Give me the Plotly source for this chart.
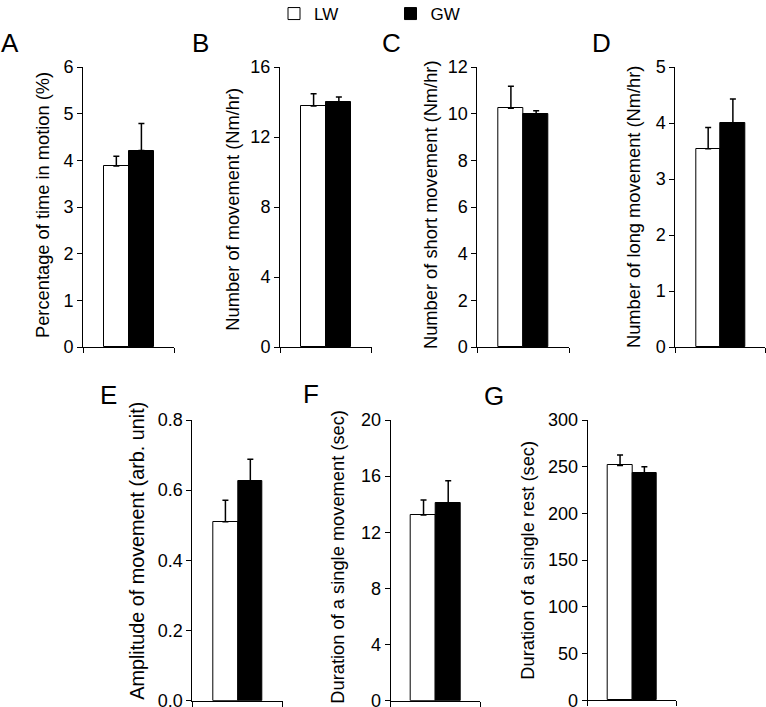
import plotly.graph_objects as go

W, H = 766, 707
FONT = "Liberation Sans, Arial, sans-serif"

groups = ["LW", "GW"]
panel_letters = ["A", "B", "C", "D", "E", "F", "G"]
y_titles = [
    "Percentage of time in motion (%)",
    "Number of movement (Nm/hr)",
    "Number of short movement (Nm/hr)",
    "Number of long movement (Nm/hr)",
    "Amplitude of movement (arb. unit)",
    "Duration of a single movement (sec)",
    "Duration of a single rest (sec)",
]
lw_means = [3.88, 13.77, 10.23, 3.54, 0.510, 13.24, 251.4]
lw_errs = [0.21, 0.70, 0.94, 0.38, 0.061, 1.06, 11.1]
gw_means = [4.21, 13.98, 9.99, 4.00, 0.625, 14.07, 242.9]
gw_errs = [0.58, 0.31, 0.14, 0.43, 0.063, 1.61, 7.1]
y_max = [6, 16, 12, 5, 0.8, 20, 300]
y_dtick = [1, 4, 2, 1, 0.2, 4, 50]
y_fmt = ["", "", "", "", ".1f", "", ""]

# layout in pixels (left, right, top, bottom) of each plot area
boxes = [
    (83, 174, 67, 347),
    (280, 371.7, 67, 347),
    (477.3, 569, 67, 347),
    (675.3, 765, 67, 347),
    (192.3, 282.7, 420, 700.7),
    (390.7, 480.3, 420, 700.7),
    (587.7, 676, 420, 700.3),
]
title_pos = [(42, 205), (231.7, 209), (430, 205), (633, 207),
             (136.7, 551), (336.7, 557), (526.7, 560)]
title_size = [18.3, 18.3, 18.3, 18.3, 19.8, 18.3, 18.3]
letter_pos = [(-1, 43), (190, 43), (380, 43), (590, 43),
              (98, 395), (301, 394), (482, 396)]

X_LO, X_HI = -1.33, 2.3

fig = go.Figure()
annotations = []
for i in range(7):
    xa = "x" if i == 0 else f"x{i+1}"
    ya = "y" if i == 0 else f"y{i+1}"
    fig.add_trace(go.Bar(
        x=[0], y=[lw_means[i]], width=1, name=groups[0], legendgroup=groups[0],
        showlegend=(i == 0), xaxis=xa, yaxis=ya,
        marker=dict(color="white", line=dict(color="black", width=1)),
        error_y=dict(type="data", array=[lw_errs[i]], arrayminus=[0], symmetric=False,
                     color="black", thickness=1.5, width=3),
    ))
    fig.add_trace(go.Bar(
        x=[1], y=[gw_means[i]], width=1, name=groups[1], legendgroup=groups[1],
        showlegend=(i == 0), xaxis=xa, yaxis=ya,
        marker=dict(color="black", line=dict(color="black", width=1)),
        error_y=dict(type="data", array=[gw_errs[i]], arrayminus=[0], symmetric=False,
                     color="black", thickness=1.5, width=3),
    ))
    l, r, t, b = boxes[i]
    xkey = "xaxis" if i == 0 else f"xaxis{i+1}"
    ykey = "yaxis" if i == 0 else f"yaxis{i+1}"
    fig.layout[xkey] = dict(
        domain=[l / W, r / W], anchor=ya, range=[X_LO, X_HI], automargin=False,
        showgrid=False, zeroline=False, showline=True, linecolor="black", linewidth=1,
        ticks="outside", tickvals=[X_LO, X_HI], ticklen=5, tickcolor="black",
        showticklabels=False, fixedrange=True,
    )
    fig.layout[ykey] = dict(
        domain=[(H - b) / H, (H - t) / H], anchor=xa, range=[0, y_max[i]],
        automargin=False, ticklabeloverflow="allow",
        dtick=y_dtick[i], tick0=0, tickformat=y_fmt[i],
        showgrid=False, zeroline=False, showline=True, linecolor="black", linewidth=1,
        ticks="outside", ticklen=5, tickcolor="black",
        tickfont=dict(family=FONT, size=18, color="black"),
    )
    tx, ty = title_pos[i]
    annotations.append(dict(
        text=y_titles[i], xref="paper", yref="paper", x=tx / W, y=(H - ty) / H,
        xanchor="center", yanchor="middle", textangle=-90, showarrow=False,
        font=dict(family=FONT, size=title_size[i], color="black"),
    ))
    lx, lyy = letter_pos[i]
    annotations.append(dict(
        text=panel_letters[i], xref="paper", yref="paper", x=lx / W, y=(H - lyy) / H,
        xanchor="left", yanchor="middle", showarrow=False,
        font=dict(family=FONT, size=26, color="black"),
    ))

fig.update_layout(
    width=W, height=H, margin=dict(l=0, r=0, t=0, b=0, autoexpand=False),
    paper_bgcolor="white", plot_bgcolor="white",
    barmode="overlay", bargap=0,
    showlegend=True,
    legend=dict(orientation="h", x=274 / W, xanchor="left", y=1.0 + 4 / H, yanchor="top",
                entrywidth=71.5, entrywidthmode="pixels",
                font=dict(family=FONT, size=17, color="black"),
                bgcolor="rgba(0,0,0,0)", borderwidth=0),
    annotations=annotations,
)

fig.write_html("out.html", config={"displayModeBar": False},
               post_script="document.body.style.margin='0';")
